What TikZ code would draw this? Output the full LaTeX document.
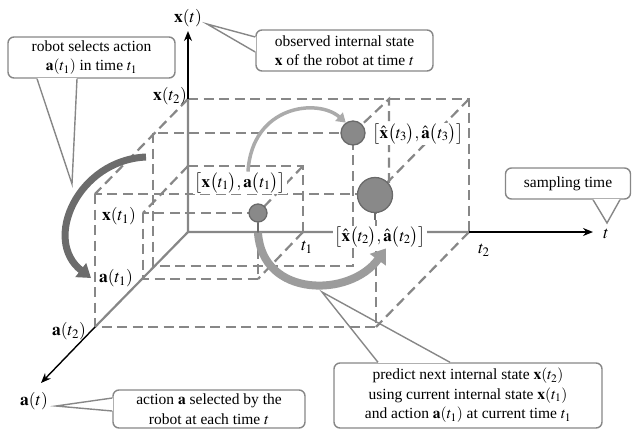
\documentclass[tikz,border=0pt]{standalone}
\usepackage{mathptmx}
\usepackage{fontspec}
\setmainfont{Liberation Serif}
\usetikzlibrary{arrows.meta}

\definecolor{boxgray}{HTML}{878787}
\definecolor{ballgray}{HTML}{898989}
\definecolor{ballrim}{HTML}{6A6A6A}
\definecolor{arrowdark}{HTML}{6C6C6C}
\definecolor{arrowmid}{HTML}{9C9C9C}
\definecolor{arrowlight}{HTML}{ABABAB}

\tikzset{
	hidden/.style={boxgray, line width=2.2pt, dash pattern=on 10pt off 5.5pt},
	axisin/.style={boxgray, line width=2.2pt},
	axisout/.style={black, line width=1.4pt, -{Stealth[length=10pt,width=8pt]}},
	callout/.style={draw=boxgray, line width=1.4pt, fill=white, rounded corners=6pt,
		align=center, inner sep=0pt},
	wedge/.style={boxgray, line width=1.4pt},
	state/.style={circle, draw=ballrim, line width=1.3pt, fill=ballgray, inner sep=0pt},
	axislbl/.style={font=\fontsize{17.5}{20}\selectfont},
	pairlbl/.style={fill=white, inner sep=1pt, font=\fontsize{17}{20}\selectfont},
}

\begin{document}
\begin{tikzpicture}[x=1pt, y=-1pt, font=\fontsize{15.5}{19.5}\selectfont]
	\useasboundingbox (0,0) rectangle (632,429);
	\coordinate (O) at (188,232);
	
	% box at t1
	\draw[hidden] (188,166) -- (303,166) -- (303,232);
	\draw[hidden] (143,213) -- (143,279) -- (258,279) -- (258,213) -- cycle;
	\draw[hidden] (188,166) -- (143,213) (303,166) -- (258,213) (303,232) -- (258,279);
	
	% middle box
	\draw[hidden] (389,183) -- (389,99) -- (353,133);
	\draw[hidden] (153,133) -- (153,266) -- (353,266) -- (353,133) -- cycle;
	
	% box at t2
	\draw[hidden] (188,99) -- (469,99) -- (469,232);
	\draw[hidden] (95,194) -- (95,327) -- (376,327) -- (376,194) -- cycle;
	\draw[hidden] (188,99) -- (95,194) (469,99) -- (376,194) (469,232) -- (376,327);
	
	% axes
	\draw[axisin] (O) -- (188,99) (O) -- (469,232) (O) -- (95,327);
	\draw[axisout] (188,99) -- (188,31);
	\draw[axisout] (469,232) -- (593,232);
	\draw[axisout] (95,327) -- (41,383);
	
	\node[axislbl] (xt) at (188,18) {$\mathbf{x}(t)$};
	\node[axislbl, anchor=east, inner sep=1pt] (xt2) at (188,96) {$\mathbf{x}(t_2)$};
	\node[axislbl] (xt1) at (119,216) {$\mathbf{x}(t_1)$};
	\node[axislbl] (at1) at (116,278) {$\mathbf{a}(t_1)$};
	\node[axislbl] (at2) at (69,331) {$\mathbf{a}(t_2)$};
	\node[axislbl] (at) at (34,401) {$\mathbf{a}(t)$};
	\node[axislbl] (tt) at (606,234) {$t$};
	\node[axislbl] (tt1) at (307,247) {$t_1$};
	\node[axislbl] (tt2) at (484,250) {$t_2$};
	
	% states
	\node[pairlbl] (sl1) at (240,183) {$\bigl[\mathbf{x}\bigl(t_1\bigr),\mathbf{a}\bigl(t_1\bigr)\bigr]$};
	\node[pairlbl] (sl3) at (418,134) {$\bigl[\hat{\mathbf{x}}\bigl(t_3\bigr),\hat{\mathbf{a}}\bigl(t_3\bigr)\bigr]$};
	\node[pairlbl] (sl2) at (380,237) {$\bigl[\hat{\mathbf{x}}\bigl(t_2\bigr),\hat{\mathbf{a}}\bigl(t_2\bigr)\bigr]$};
	
	\node[state, minimum size=18pt] (s1) at (258,213) {};
	\node[state, minimum size=24pt] (s3) at (353,133) {};
	\node[state, minimum size=35pt] (s2) at (375,195) {};
	\draw[ballrim, line width=1.3pt] (s1.south) -- ++(0,10) coordinate (s1foot);
	\draw[ballrim, line width=1.3pt] (s2.south) -- ++(0,7);
	
	% curved arrows
	\draw[arrowdark, line width=7pt, -{Triangle[width=17pt,length=13pt]}]
		(146,157) .. controls (78,160) and (42,240) .. (91,278);
	\draw[arrowlight, line width=3.5pt, -{Triangle[width=11pt,length=9pt]}]
		([xshift=8pt]sl1.north) .. controls (252,105) and (318,98) .. (s3.125);
	\draw[arrowmid, line width=8pt, -{Triangle[width=19pt,length=14pt]}]
		(s1foot) .. controls (262,298) and (350,298) .. ([xshift=6pt]sl2.south);
	
	% callouts
	\node[callout, minimum width=167pt, minimum height=41pt] (selbox) at (91.5,57.5)
		{robot selects action\\ $\mathbf{a}(t_1)$ in time $t_1$};
	\coordinate (seltip) at (72,184);
	\fill[white] ([xshift=-54.5pt,yshift=1pt]selbox.south) rectangle ([xshift=-14.5pt,yshift=-1pt]selbox.south);
	\draw[wedge] ([xshift=-54.5pt]selbox.south) -- (seltip) -- ([xshift=-14.5pt]selbox.south);
	
	\node[callout, minimum width=177pt, minimum height=41pt] (obsbox) at (344.5,50.5)
		{observed internal state\\ $\mathbf{x}$ of the robot at time $t$};
	\coordinate (obstip) at (207,24);
	\fill[white] ([xshift=-1pt,yshift=13.5pt]obsbox.west) rectangle ([xshift=1pt,yshift=-1.5pt]obsbox.west);
	\draw[wedge] ([yshift=13.5pt]obsbox.west) -- (obstip) -- ([yshift=-1.5pt]obsbox.west);
	
	\node[callout, minimum width=125pt, minimum height=31pt] (sampbox) at (568,183.5)
		{sampling time};
	\coordinate (samptip) at (607,223);
	\fill[white] ([xshift=25pt,yshift=1pt]sampbox.south) rectangle ([xshift=52pt,yshift=-1pt]sampbox.south);
	\draw[wedge] ([xshift=25pt]sampbox.south) -- (samptip) -- ([xshift=52pt]sampbox.south);
	
	\node[callout, minimum width=192pt, minimum height=38pt] (actbox) at (209,409)
		{action $\mathbf{a}$ selected by the\\ robot at each time $t$};
	\coordinate (acttip) at (56,406);
	\fill[white] ([xshift=-1pt,yshift=11pt]actbox.west) rectangle ([xshift=1pt,yshift=-2pt]actbox.west);
	\draw[wedge] ([yshift=11pt]actbox.west) -- (acttip) -- ([yshift=-2pt]actbox.west);
	
	\node[callout, minimum width=268pt, minimum height=65pt] (predbox) at (468,395.5)
		{predict next internal state $\mathbf{x}(t_2)$\\ using current internal state $\mathbf{x}(t_1)$\\ and action $\mathbf{a}(t_1)$ at current time $t_1$};
	\coordinate (predtip) at (322,292);
	\fill[white] ([xshift=-90pt,yshift=1pt]predbox.north) rectangle ([xshift=-18pt,yshift=-1pt]predbox.north);
	\draw[wedge] ([xshift=-90pt]predbox.north) -- (predtip) -- ([xshift=-18pt]predbox.north);
\end{tikzpicture}
\end{document}
